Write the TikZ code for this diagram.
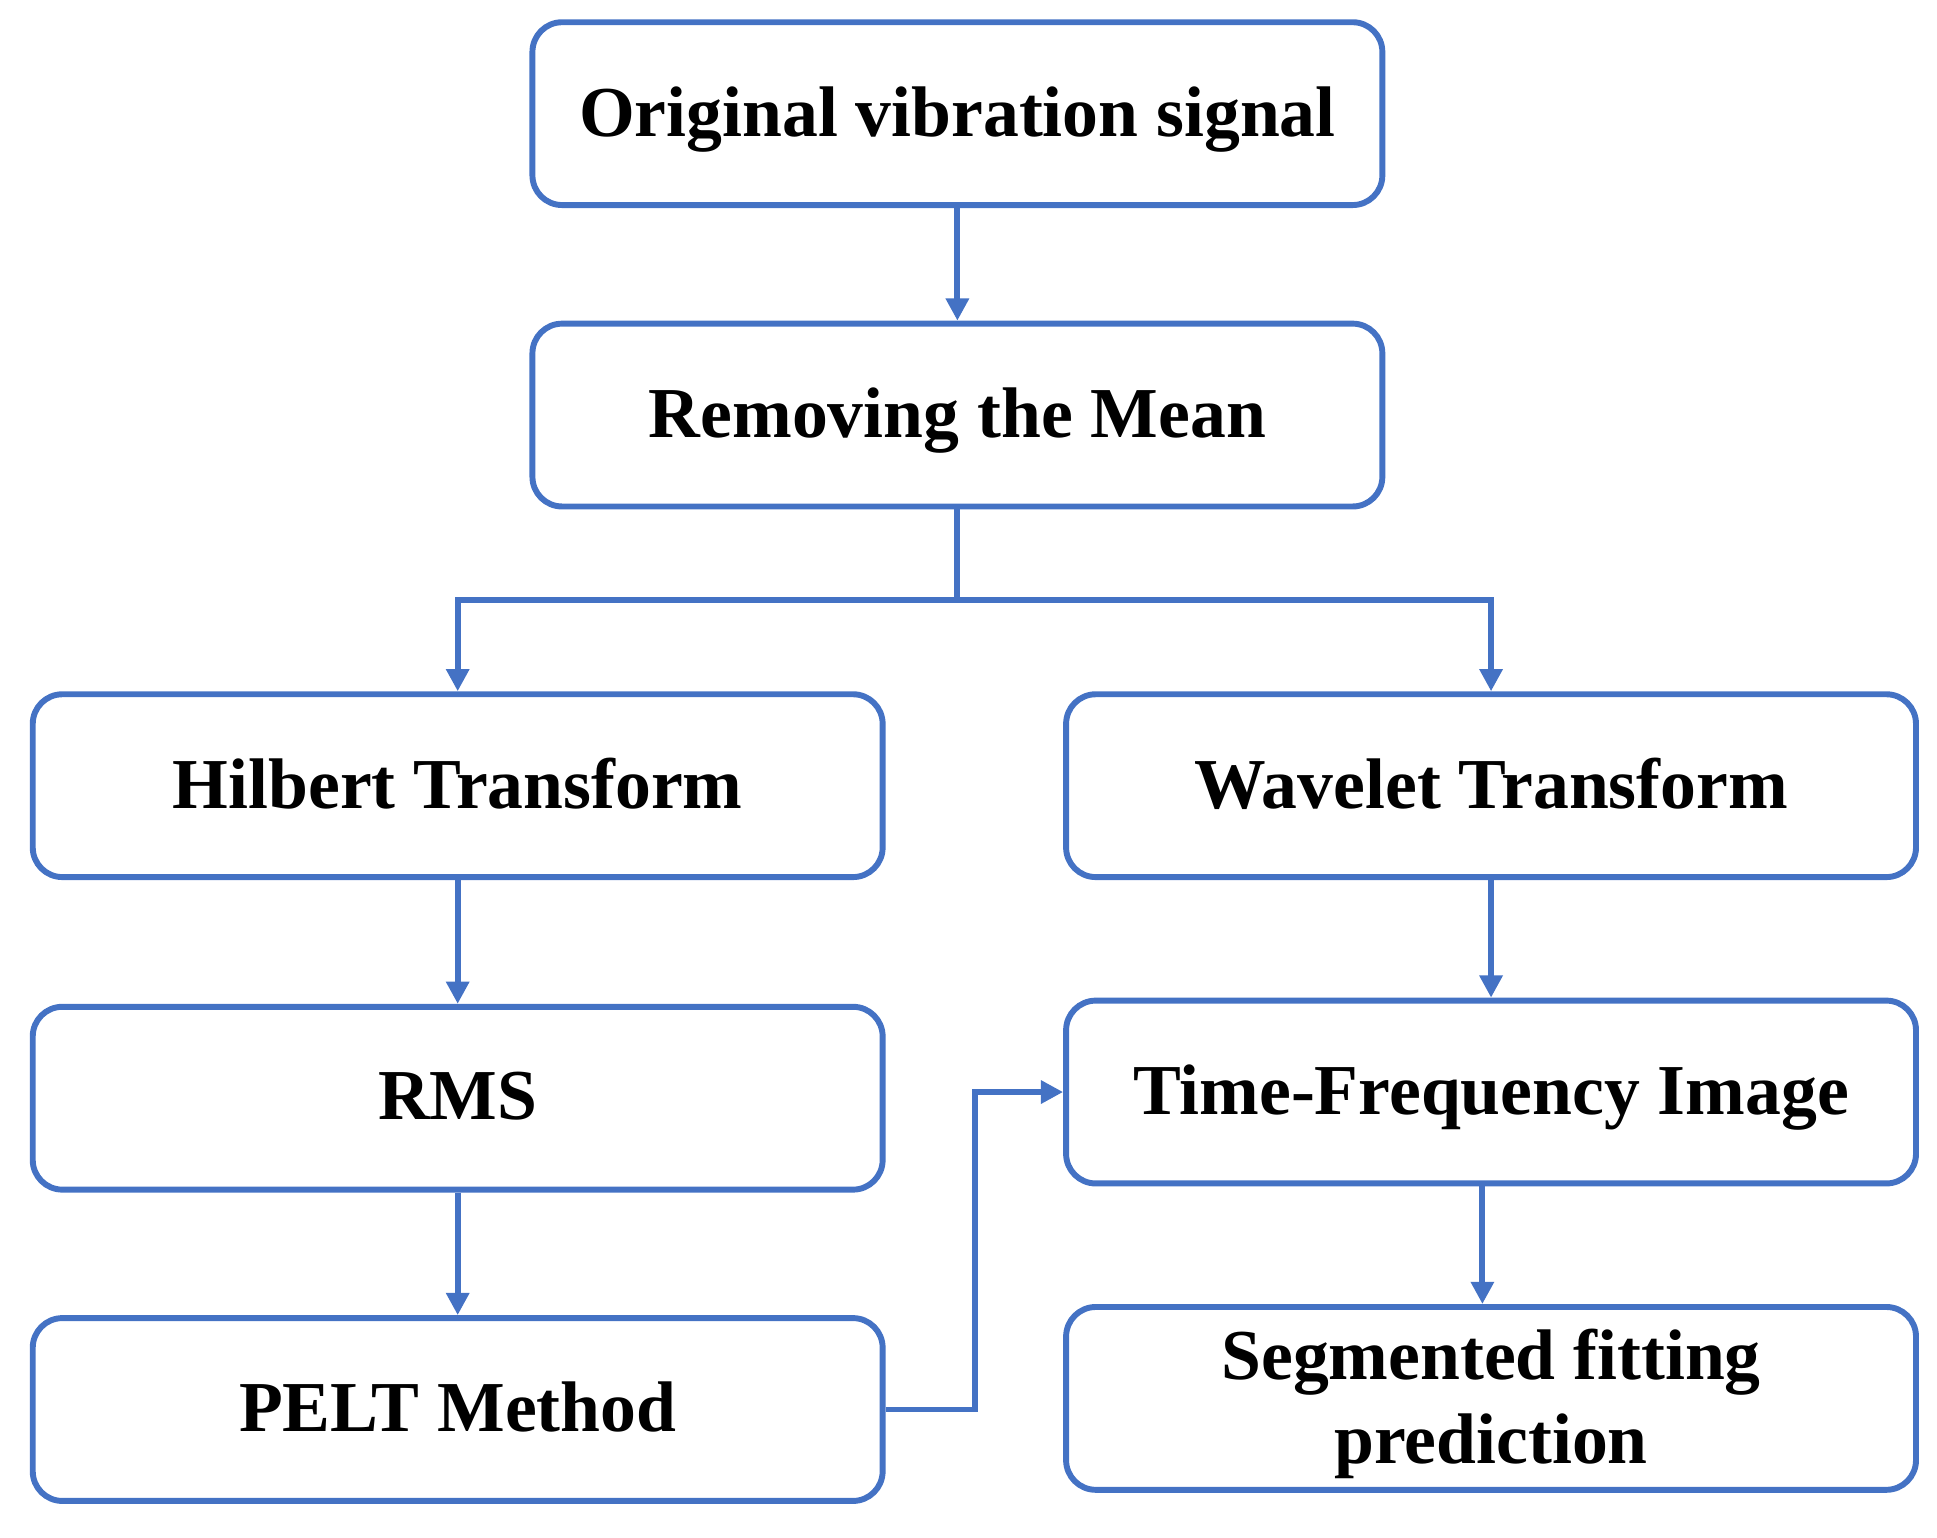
\documentclass[tikz,border=0pt]{standalone}
\usepackage{fontspec}
\setmainfont{Liberation Serif}
\usetikzlibrary{arrows.meta}
\definecolor{bl}{RGB}{68,114,196}
\begin{document}
\begin{tikzpicture}[x=0.5pt,y=-0.5pt,
 box/.style={draw=bl,line width=2.4pt,rounded corners=12pt,minimum width=344pt,minimum height=74pt,align=center,font=\fontsize{29}{34}\selectfont\bfseries,inner sep=0pt,text depth=2pt},
 ar/.style={draw=bl,line width=2.4pt,-{Triangle[length=9pt,width=9pt]}}]
\useasboundingbox (0,0) rectangle (1568,1245);
\node[box] (o) at (775,92) {Original vibration signal};
\node[box] (m) at (775,336) {Removing the Mean};
\node[box] (h) at (370.5,636) {Hilbert Transform};
\node[box] (w) at (1207,636) {Wavelet Transform};
\node[box] (r) at (370.5,889) {RMS};
\node[box] (t) at (1207,884) {Time-Frequency Image};
\node[box] (p) at (370.5,1141) {PELT Method};
\node[box] (s) at (1207,1132) {Segmented fitting\\prediction};
\coordinate (j) at (775,486);
\draw[ar] (o) -- (m);
\draw[draw=bl,line width=2.4pt] (m) -- (j);
\draw[ar] (j) -| (h);
\draw[ar] (j) -| (w);
\draw[ar] (h) -- (r);
\draw[ar] (r) -- (p);
\draw[ar] (w) -- (t);
\draw[ar] (t.south -| 1200,0) -- (s.north -| 1200,0);
\draw[ar] (p.east) -- (789,1141) |- (t.west);
\end{tikzpicture}
\end{document}
